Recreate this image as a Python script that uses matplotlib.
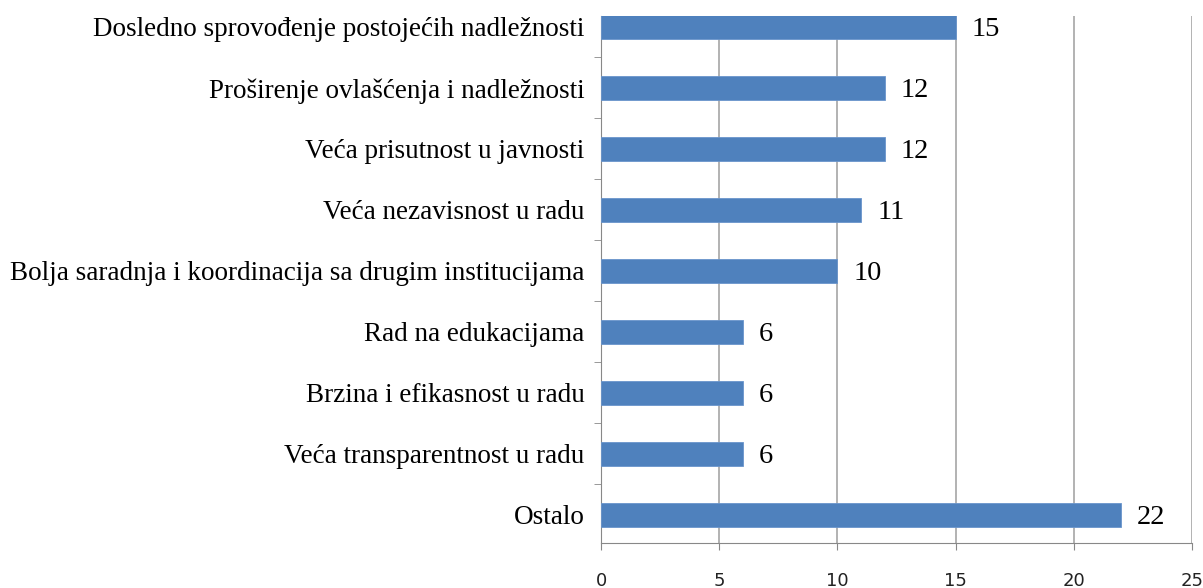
import numpy as np
import matplotlib.pyplot as plt
from matplotlib.ticker import FixedLocator

categories = [
    "Dosledno sprovođenje postojećih nadležnosti",
    "Proširenje ovlašćenja i nadležnosti",
    "Veća prisutnost u javnosti",
    "Veća nezavisnost u radu",
    "Bolja saradnja i koordinacija sa drugim institucijama",
    "Rad na edukacijama",
    "Brzina i efikasnost u radu",
    "Veća transparentnost u radu",
    "Ostalo",
]
values = [15, 12, 12, 11, 10, 6, 6, 6, 22]
xticks = [0, 5, 10, 15, 20, 25]

plt.rcParams['font.family'] = ['Liberation Serif', 'DejaVu Serif']

fig = plt.figure(figsize=(12.03, 5.88), dpi=100)
ax = fig.add_axes([0.4996, 0.0765, 0.4913, 0.8963])

y = np.arange(len(categories))[::-1]
ax.barh(y, values, height=0.39, color='#4F81BD', edgecolor='#6A95CC', linewidth=0.6, zorder=3)

# etiquetas de valor a la derecha de cada barra
for yi, v in zip(y, values):
    ax.text(v + 0.68, yi - 0.04, str(v), va='center', ha='left', fontsize=20.5, color='black')

ax.set_xlim(0, 25)
ax.set_ylim(-0.46, 8.18)
ax.set_xticks(xticks)
ax.set_xticklabels([str(t) for t in xticks], fontsize=13, family='DejaVu Sans', color='#222222')
ax.tick_params(axis='x', length=5, color='#888888', pad=16)
ax.xaxis.grid(True, color='#a6a6a6', linewidth=1.2, zorder=0)

ax.set_yticks(y)
ax.set_yticklabels(categories, fontsize=19.5)
ax.tick_params(axis='y', length=0, pad=12)
ax.yaxis.set_minor_locator(FixedLocator(np.arange(-0.5, 8.5, 1.0)))
ax.tick_params(axis='y', which='minor', length=5, color='#888888')

for s in ['top', 'right']:
    ax.spines[s].set_visible(False)
ax.spines['left'].set_color('#888888')
ax.spines['bottom'].set_color('#888888')

fig.savefig('out.png', dpi=100)
